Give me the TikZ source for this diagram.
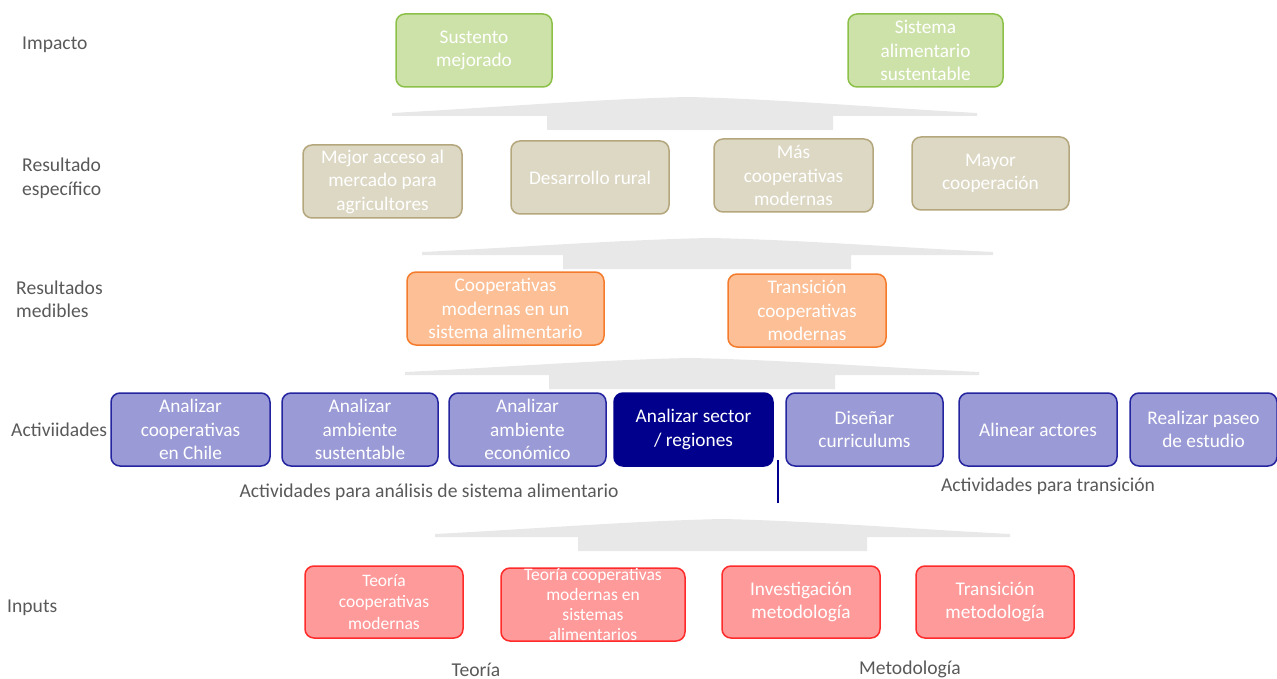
\documentclass[tikz,border=0pt]{standalone}
\usepackage{fontspec}
\setmainfont{Carlito}
\definecolor{labgray}{HTML}{595959}
\definecolor{arrgray}{HTML}{E8E8E8}
\definecolor{gfill}{HTML}{CDE2A9}
\definecolor{gdraw}{HTML}{8CC048}
\definecolor{tfill}{HTML}{DDD8C4}
\definecolor{tdraw}{HTML}{B5A77D}
\definecolor{ofill}{HTML}{FCBF96}
\definecolor{odraw}{HTML}{F57B2C}
\definecolor{pfill}{HTML}{9A9AD6}
\definecolor{pdraw}{HTML}{2424A0}
\definecolor{navy}{HTML}{00008C}
\definecolor{rfill}{HTML}{FF9A9A}
\definecolor{rdraw}{HTML}{FF2B2B}
\tikzset{
  box/.style={rounded corners=9pt, line width=1.5pt, align=center, inner sep=0pt,
    text=white, minimum height=73pt, font=\fontsize{19.3}{23.5}\selectfont},
  gbox/.style={box, fill=gfill, draw=gdraw},
  tbox/.style={box, fill=tfill, draw=tdraw},
  obox/.style={box, fill=ofill, draw=odraw},
  pbox/.style={box, fill=pfill, draw=pdraw},
  nbox/.style={box, fill=navy, draw=navy},
  rbox/.style={box, fill=rfill, draw=rdraw},
  lab/.style={text=labgray, align=left, inner sep=0pt, font=\fontsize{19.6}{23.5}\selectfont},
  uparrow/.style={fill=arrgray}
}
\newcommand{\uparr}[7]{% lx, rx, tipy, apexx, apexy, rl, rr
  \fill[uparrow] (#1,#3) .. controls ({#1+0.35*(#4-#1)},{#3-0.35*(#3-#5)}) and ({#4-0.3*(#4-#1)},{#5+0.12*(#3-#5)}) .. (#4,#5)
    .. controls ({#4+0.3*(#2-#4)},{#5+0.12*(#3-#5)}) and ({#2-0.35*(#2-#4)},{#3-0.35*(#3-#5)}) .. (#2,#3)
    -- (#2,#3+3) -- (#7,#3+3) -- (#7,#3+17) -- (#6,#3+17) -- (#6,#3+3) -- (#1,#3+3) -- cycle;}
\begin{document}
\begin{tikzpicture}[x=1pt,y=-1pt]
\useasboundingbox (0,0) rectangle (1277,679);
\clip (0,0) rectangle (1277,679);

% gray upward arrows
\uparr{392}{977}{113}{688}{97}{547}{833}
\uparr{422}{993}{252}{710}{238}{563}{851}
\uparr{405}{979}{372}{690}{358}{549}{835}
\uparr{435}{1010}{534}{722}{519}{578}{867}

% row labels
\node[lab, anchor=west] (lImp) at (22,45) {Impacto};
\node[lab, anchor=west] (lRes) at (22,178.5) {Resultado\\específico};
\node[lab, anchor=west] (lMed) at (16,299.5) {Resultados\\medibles};
\node[lab, anchor=west] (lAct) at (11,430) {Activiidades};
\node[lab, anchor=west] (lInp) at (7,608) {Inputs};

% Impacto
\node[gbox, minimum width=156pt] (imp1) at (474,50.5) {Sustento\\mejorado};
\node[gbox, minimum width=155pt] (imp2) at (925.5,50.5) {Sistema\\alimentario\\sustentable};

% Resultado especifico
\node[tbox, minimum width=159pt] (res1) at (382.5,181.5) {Mejor acceso al\\mercado para\\agricultores};
\node[tbox, minimum width=158pt] (res2) at (590,177.5) {Desarrollo rural};
\node[tbox, minimum width=159pt] (res3) at (793.5,175.5) {Más\\cooperativas\\modernas};
\node[tbox, minimum width=157pt] (res4) at (990.5,173.5) {Mayor\\cooperación};

% Resultados medibles
\node[obox, minimum width=197pt] (med1) at (505.5,308.5) {Cooperativas\\modernas en un\\sistema alimentario};
\node[obox, minimum width=158pt] (med2) at (807,310.5) {Transición\\cooperativas\\modernas};

% Actividades
\node[pbox, minimum width=159pt] (act1) at (190.5,429.5) {Analizar\\cooperativas\\en Chile};
\node[pbox, minimum width=156pt] (act2) at (360,429.5) {Analizar\\ambiente\\sustentable};
\node[pbox, minimum width=157pt] (act3) at (527.5,429.5) {Analizar\\ambiente\\económico};
\node[nbox, minimum width=159pt] (act4) at (693.5,429.5) {Analizar sector\\/ regiones};
\node[pbox, minimum width=157pt] (act5) at (864.5,429.5) {Diseñar\\curriculums};
\node[pbox, minimum width=158pt] (act6) at (1038,429.5) {Alinear actores};
\node[pbox, minimum width=147pt] (act7) at (1203.5,429.5) {Realizar paseo\\de estudio};

\coordinate (sepT) at (778,460);
\coordinate (sepB) at (778,503);
\draw[navy, line width=1.4pt] (sepT) -- (sepB);

\node[lab] (gAn) at (429,492) {Actividades para análisis de sistema alimentario};
\node[lab] (gTr) at (1048,486) {Actividades para transición};

% Inputs
\node[rbox, minimum width=158pt, minimum height=72pt, font=\fontsize{17.5}{21.5}\selectfont] (inp1) at (384,602) {Teoría\\cooperativas\\modernas};
\node[rbox, minimum width=184pt, minimum height=73pt, font=\fontsize{17.5}{20}\selectfont] (inp2) at (593,604.5) {Teoría cooperativas\\modernas en\\sistemas\\alimentarios};
\node[rbox, minimum width=158pt, minimum height=72pt] (inp3) at (801,602) {Investigación\\metodología};
\node[rbox, minimum width=158pt, minimum height=72pt] (inp4) at (995,602) {Transición\\metodología};

\node[lab] (gTe) at (476,670) {Teoría};
\node[lab] (gMe) at (910,669) {Metodología};
\end{tikzpicture}
\end{document}
